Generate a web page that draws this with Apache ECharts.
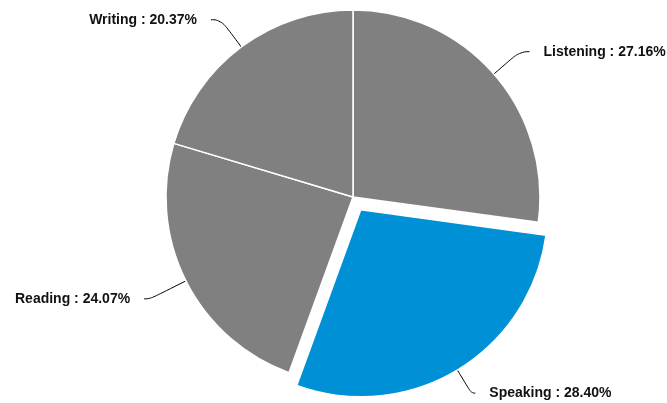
<!DOCTYPE html>
<html>
<head>
<meta charset="utf-8">
<script src="https://cdn.jsdelivr.net/npm/echarts@6/dist/echarts.min.js"></script>
<style>
  html, body { margin: 0; padding: 0; background: #fff; }
  #chart { width: 667px; height: 403px; }
</style>
</head>
<body>
<div id="chart"></div>
<script>
// Share of study time by skill
const categories = ['Listening', 'Speaking', 'Reading', 'Writing'];
const shares = [27.16, 28.40, 24.07, 20.37];
const highlighted = 'Speaking';

const GRAY = '#808080';
const BLUE = '#0090d6';

// per-slice leader line lengths [first segment, second segment]
const leaderLengths = {
  Listening: [34, 10],
  Speaking: [27, 4],
  Reading: [40, 6],
  Writing: [34, 10]
};

const chart = echarts.init(document.getElementById('chart'), null, { renderer: 'canvas' });

const data = categories.map((name, i) => ({
  name,
  value: shares[i],
  selected: name === highlighted,
  itemStyle: { color: name === highlighted ? BLUE : GRAY },
  labelLine: { length: leaderLengths[name][0], length2: leaderLengths[name][1] }
}));

chart.setOption({
  animation: false,
  series: [{
    type: 'pie',
    center: [353, 197],
    radius: [0, 187],
    startAngle: 90,
    clockwise: true,
    selectedMode: 'single',
    selectedOffset: 15,
    itemStyle: { borderColor: '#ffffff', borderWidth: 1.5 },
    emphasis: { disabled: true },
    label: {
      show: true,
      position: 'outside',
      formatter: p => p.name + ' : ' + p.value.toFixed(2) + '%',
      fontFamily: 'Liberation Sans, Arial, sans-serif',
      fontWeight: 'bold',
      fontSize: 14,
      color: '#111111',
      overflow: 'none',
      distanceToLabelLine: 14
    },
    labelLine: {
      show: true,
      smooth: 0.5,
      lineStyle: { color: '#000', width: 1 }
    },
    data
  }]
});
</script>
</body>
</html>
